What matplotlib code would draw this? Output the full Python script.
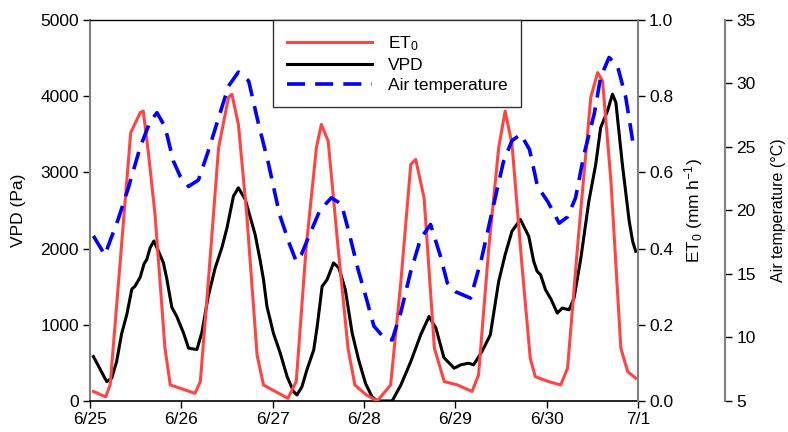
import matplotlib
matplotlib.use('Agg')
import matplotlib.pyplot as plt
from matplotlib.ticker import FormatStrFormatter

plt.rcParams.update({'font.family': 'Liberation Sans', 'mathtext.default': 'regular',
                     'font.size': 12.5})

# hours since 6/25 00:00
et0_t = [0.9, 4.1, 5.3, 10.7, 13.2, 14.0, 15.4, 17.1, 19.7, 21.1, 25.0, 27.6, 29.0, 31.1,
         33.8, 36.4, 37.3, 39.0, 41.2, 43.9, 45.6, 48.7, 52.0, 54.2, 56.8, 59.5, 60.8, 62.6,
         65.2, 67.8, 69.6, 72.6, 75.5, 79.0, 81.7, 84.3, 85.6, 87.8, 90.5, 93.1, 96.6, 100.4,
         102.1, 104.8, 107.4, 109.1, 110.9, 113.5, 115.7, 117.0, 120.5, 123.7, 125.5, 128.1,
         131.6, 133.4, 134.7, 136.9, 139.5, 141.3, 143.4]
et0 = [0.025, 0.011, 0.042, 0.704, 0.757, 0.761, 0.647, 0.489, 0.139, 0.042, 0.029, 0.020,
       0.051, 0.314, 0.665, 0.797, 0.805, 0.726, 0.489, 0.121, 0.042, 0.025, 0.007, 0.051,
       0.402, 0.665, 0.726, 0.682, 0.402, 0.139, 0.042, 0.016, 0.0, 0.042, 0.314, 0.621,
       0.634, 0.533, 0.139, 0.051, 0.042, 0.025, 0.068, 0.402, 0.665, 0.761, 0.674, 0.358,
       0.112, 0.064, 0.051, 0.042, 0.086, 0.402, 0.797, 0.862, 0.840, 0.577, 0.139, 0.077,
       0.060]

vpd_t = [0.9, 4.4, 5.7, 7.0, 8.3, 9.7, 11.0, 11.8, 13.2, 14.2, 14.9, 15.8, 16.8, 18.0, 19.3,
         20.2, 21.5, 22.8, 24.6, 25.9, 28.1, 29.4, 31.1, 32.9, 34.7, 36.0, 37.7, 39.0, 40.8,
         43.4, 44.7, 45.6, 46.5, 48.2, 50.0, 51.8, 53.5, 54.4, 55.7, 57.0, 58.8, 59.7, 61.0,
         62.3, 64.0, 65.4, 67.1, 68.9, 70.6, 72.4, 74.1, 75.5, 79.4, 81.7, 84.3, 86.9, 89.1,
         90.9, 93.0, 95.7, 97.4, 99.5, 100.8, 103.0, 105.2, 107.4, 109.1, 110.9, 113.1, 115.3,
         116.6, 117.5, 118.4, 119.7, 121.1, 122.8, 124.1, 125.9, 127.2, 129.0, 131.1, 132.9,
         134.2, 136.0, 137.3, 138.2, 139.9, 141.7, 142.6, 143.4]
vpd = [583, 254, 298, 517, 880, 1140, 1470, 1504, 1625, 1800, 1855, 2009, 2100, 1964, 1812,
       1600, 1230, 1109, 890, 693, 675, 900, 1380, 1746, 2020, 2272, 2688, 2798, 2645,
       2184, 1850, 1592, 1241, 890, 627, 320, 122, 79, 188, 408, 671, 978, 1504,
       1592, 1812, 1746, 1460, 890, 539, 232, 56, 0, 0, 210, 517, 868, 1109,
       956, 570, 430, 474, 496, 474, 649, 868, 1570, 1921, 2228, 2382, 2162,
       1833, 1701, 1658, 1460, 1340, 1154, 1219, 1197, 1351, 1877, 2623, 3105,
       3588, 3807, 4026, 3917, 3105, 2359, 2096, 1964]

temp_t = [0.9, 3.9, 7.4, 10.1, 13.2, 15.8, 17.6, 19.7, 21.9, 23.7, 25.9, 28.5, 31.1, 33.8,
          36.4, 39.0, 41.7, 44.3, 46.9, 49.8, 52.5, 54.2, 55.5, 57.7, 60.4, 63.4, 66.1, 68.2,
          70.5, 72.6, 74.6, 77.2, 79.4, 81.7, 84.2, 86.9, 89.5, 92.1, 93.9, 96.1, 100.0,
          102.9, 105.5, 108.7, 110.9, 113.2, 115.5, 117.6, 120.3, 123.3, 125.5, 127.6, 129.8,
          132.5, 134.2, 136.4, 138.6, 140.8, 142.6]
temp = [18.0, 16.5, 19.3, 21.8, 25.0, 27.0, 27.7, 26.6, 23.9, 22.7, 21.9, 22.4, 24.7, 27.3,
        29.8, 30.9, 30.2, 26.8, 23.7, 19.7, 17.3, 16.0, 16.5, 18.1, 20.0, 21.0, 20.5, 18.1,
        15.3, 13.1, 10.9, 10.0, 9.8, 12.0, 15.1, 17.8, 18.9, 16.4, 14.3, 13.6, 13.1,
        16.2, 19.7, 23.9, 25.5, 26.0, 24.8, 21.9, 20.7, 19.0, 19.5, 21.0, 24.4,
        27.6, 30.5, 32.05, 31.4, 28.9, 25.5]

day_ticks = [0, 24, 48, 72, 96, 120, 144]
day_labels = ['6/25', '6/26', '6/27', '6/28', '6/29', '6/30', '7/1']

fig = plt.figure(figsize=(7.88, 4.32), dpi=100)
ax = fig.add_axes([0.1142, 0.0718, 0.6954, 0.8819])
ax2 = ax.twinx()
ax3 = ax.twinx()

GRAY = '#808080'
l_vpd, = ax.plot(vpd_t, vpd, color='black', lw=2.2)
l_et, = ax2.plot(et0_t, et0, color='#ff4444', lw=2.2)
l_t, = ax3.plot(temp_t, temp, color='#0000ff', lw=2.6, linestyle=(0, (5, 2.8)))

ax.set_xlim(0, 144)
ax.set_ylim(0, 5000)
ax.set_yticks([0, 1000, 2000, 3000, 4000, 5000])
ax.set_xticks(day_ticks)
ax.set_xticklabels(day_labels)
ax.set_ylabel('VPD (Pa)', fontsize=12.5, labelpad=10)

ax2.set_ylim(0, 1.0)
ax2.set_yticks([0, 0.2, 0.4, 0.6, 0.8, 1.0])
ax2.yaxis.set_major_formatter(FormatStrFormatter('%.1f'))
ax2.set_ylabel('ET$_0$ (mm h$^{-1}$)', fontsize=12.5, labelpad=6)

ax3.set_ylim(5, 35)
ax3.set_yticks([5, 10, 15, 20, 25, 30, 35])
ax3.spines['right'].set_position(('axes', 1.159))
ax3.set_ylabel('Air temperature (\u00b0C)', fontsize=11.5, labelpad=11)

for a in (ax, ax2, ax3):
    a.tick_params(direction='out', length=5, width=1, labelsize=12.5, pad=3)
ax.spines['left'].set_color(GRAY)
ax.spines['left'].set_linewidth(1.5)
ax.spines['bottom'].set_linewidth(1.2)
ax.spines['top'].set_linewidth(1)
for a in (ax2, ax3):
    a.spines['right'].set_color(GRAY)
    a.spines['right'].set_linewidth(1.5)
    for s in ('left', 'top', 'bottom'):
        a.spines[s].set_visible(False)
ax.spines['right'].set_visible(False)

leg = ax3.legend([l_et, l_vpd, l_t], ['ET$_0$', 'VPD', 'Air temperature'],
                 loc='upper left', bbox_to_anchor=(0.334, 1.0), borderaxespad=0,
                 fancybox=False, framealpha=1, edgecolor='#333333', fontsize=12.5,
                 handlelength=4.9, handletextpad=0.9, labelspacing=0.3,
                 borderpad=0.8)
leg.get_frame().set_linewidth(1)

fig.savefig('out.png', dpi=100, facecolor='white')
